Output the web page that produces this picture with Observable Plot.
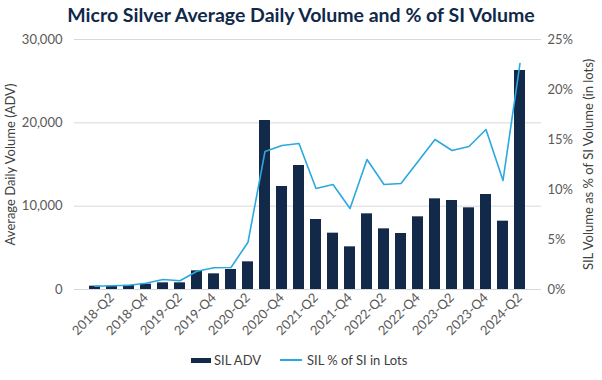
<!DOCTYPE html>
<html><head><meta charset="utf-8">
<script src="https://cdn.jsdelivr.net/npm/d3@7"></script>
<script src="https://cdn.jsdelivr.net/npm/@observablehq/plot@0.6"></script>
<style>
body{margin:0;background:#fff;font-family:Lato,sans-serif;width:602px;height:380px;overflow:hidden}
#title{height:30px;line-height:30px;text-align:center;font-weight:700;font-size:19.5px;color:#10294a}
#legend{height:35px;position:relative;font-size:13px;color:#404040}
#legend .sw{position:absolute}
#legend .lb{position:absolute;top:7px;line-height:16px}
</style></head><body>
<div id="title">Micro Silver Average Daily Volume and % of SI Volume</div>
<div id="chart"></div>
<div id="legend">
  <div class="sw" style="left:191px;top:13px;width:20px;height:5px;background:#12294a"></div>
  <div class="lb" style="left:214px">SIL ADV</div>
  <div class="sw" style="left:280px;top:14px;width:22px;height:2px;background:#2aa8e0"></div>
  <div class="lb" style="left:307px">SIL % of SI in Lots</div>
</div>
<script>
const quarters = ["2018-Q1","2018-Q2","2018-Q3","2018-Q4","2019-Q1","2019-Q2","2019-Q3","2019-Q4",
  "2020-Q1","2020-Q2","2020-Q3","2020-Q4","2021-Q1","2021-Q2","2021-Q3","2021-Q4",
  "2022-Q1","2022-Q2","2022-Q3","2022-Q4","2023-Q1","2023-Q2","2023-Q3","2023-Q4",
  "2024-Q1","2024-Q2"];
const silADV = [400, 400, 500, 640, 800, 800, 2240, 1880, 2400, 3320, 20280, 12360, 14880, 8400, 6760, 5120,
  9080, 7280, 6720, 8720, 10880, 10680, 9800, 11400, 8200, 26280];
const silPctOfSI = [0.33, 0.37, 0.43, 0.63, 1.0, 0.87, 1.83, 2.17, 2.2, 4.73, 13.8, 14.4, 14.6, 10.1, 10.5, 8.1,
  13.0, 10.5, 10.6, 12.8, 15.0, 13.9, 14.3, 16.0, 10.9, 22.6];
const advTicks = [0, 10000, 20000, 30000];
const pctTicks = [0, 5, 10, 15, 20, 25];
const xTickLabels = ["2018-Q2","2018-Q4","2019-Q2","2019-Q4","2020-Q2","2020-Q4","2021-Q2","2021-Q4",
  "2022-Q2","2022-Q4","2023-Q2","2023-Q4","2024-Q2"];
const leftTitle = "Average Daily Volume (ADV)";
const rightTitle = "SIL Volume as % of SI Volume (in lots)";

const data = quarters.map((q, i) => ({q, adv: silADV[i], pct: silPctOfSI[i]}));
const K = 30000 / 25; // map percent onto ADV scale (secondary axis)

const chart = Plot.plot({
  width: 602, height: 315,
  marginTop: 9, marginBottom: 56, marginLeft: 74, marginRight: 61,
  style: {fontFamily: "Lato, sans-serif", fontSize: "13px", color: "#595959", background: "#fff", overflow: "visible"},
  x: {domain: quarters, paddingInner: 0.34, paddingOuter: 0.39, label: null},
  y: {domain: [0, 30000], label: null},
  marks: [
    Plot.gridY(advTicks, {stroke: "#d9d9d9", strokeOpacity: 1}),
    Plot.barY(data, {x: "q", y: "adv", fill: "#12294a"}),
    Plot.lineY(data, {x: "q", y: d => d.pct * K, stroke: "#2aa8e0", strokeWidth: 1.6}),
    Plot.axisY(advTicks, {anchor: "left", tickSize: 0, tickPadding: 12, tickFormat: d3.format(","), label: null}),
    Plot.axisY(pctTicks.map(p => p * K), {anchor: "right", tickSize: 0, tickPadding: 6, tickFormat: d => Math.round(d / K) + "%", label: null}),
    Plot.axisX(xTickLabels, {tickRotate: -45, tickSize: 0, tickPadding: 6, label: null}),
    Plot.text([leftTitle], {text: d => d, frameAnchor: "left", textAnchor: "middle", rotate: -90, dx: -64, fill: "#404040", fontSize: 13}),
    Plot.text([rightTitle], {text: d => d, frameAnchor: "right", textAnchor: "middle", rotate: -90, dx: 47, fill: "#404040", fontSize: 13})
  ]
});
document.getElementById("chart").appendChild(chart);
</script>
</body></html>
